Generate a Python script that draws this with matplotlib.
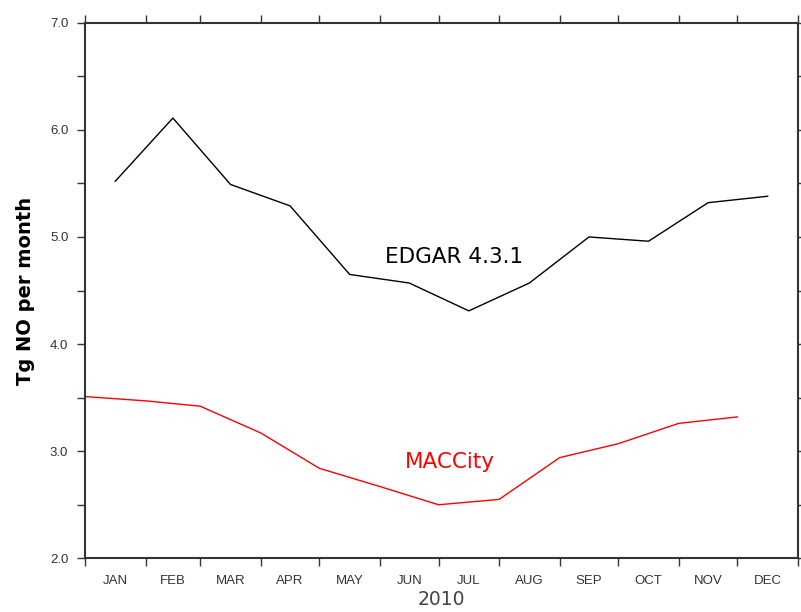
import numpy as np
import matplotlib.pyplot as plt

months = ["JAN", "FEB", "MAR", "APR", "MAY", "JUN",
          "JUL", "AUG", "SEP", "OCT", "NOV", "DEC"]
days_in_month = [31, 28, 31, 30, 31, 30, 31, 31, 30, 31, 30, 31]

# monthly NO emissions, Tg NO per month (2010)
edgar = [5.52, 6.11, 5.49, 5.29, 4.65, 4.57, 4.31, 4.57, 5.00, 4.96, 5.32, 5.38]
maccity = [3.51, 3.47, 3.42, 3.17, 2.84, 2.67, 2.50, 2.55, 2.94, 3.07, 3.26, 3.32]

# day-of-year axis: month starts and mid-month positions
month_start = np.concatenate([[0], np.cumsum(days_in_month)])
month_mid = month_start[:-1] + np.array(days_in_month) / 2.0

axis_col = "#333333"

fig = plt.figure(figsize=(8.01, 6.12), dpi=100)
ax = fig.add_axes([0.1061, 0.0877, 0.8901, 0.8752])

ax.plot(month_mid, edgar, color="black", lw=1.0)
ax.plot(month_start[:-1], maccity, color="red", lw=1.0)

ax.text(189, 4.81, "EDGAR 4.3.1", fontsize=15.5, color="black",
        ha="center", va="center")
ax.text(187, 2.90, "MACCity", fontsize=15.5, color="red",
        ha="center", va="center")

ax.set_xlim(0, 365)
ax.set_ylim(2.0, 7.0)

ax.set_xticks(month_start)
ax.set_xticklabels([])
ax.set_xticks(month_mid, minor=True)
ax.set_xticklabels(months, minor=True, fontsize=9.5, color=axis_col,
                   family="Liberation Sans")
ax.tick_params(axis="x", which="minor", length=0, pad=12)

yt = np.arange(2.0, 7.01, 0.5)
ax.set_yticks(yt)
ax.set_yticklabels([f"{v:.1f}" if v == int(v) else "" for v in yt],
                   fontsize=9.5, color=axis_col, family="Liberation Sans")

ax.tick_params(axis="both", which="major", direction="out", length=6,
               width=1.0, color=axis_col, top=True, right=True)
ax.tick_params(axis="y", pad=6)

for s in ax.spines.values():
    s.set_color(axis_col)
    s.set_linewidth(1.5)

ax.set_ylabel("Tg NO per month", fontsize=14, fontweight="bold", labelpad=11)
ax.set_xlabel("2010", fontsize=13.5, color="#444444", labelpad=2)

fig.savefig("out.png", dpi=100)
